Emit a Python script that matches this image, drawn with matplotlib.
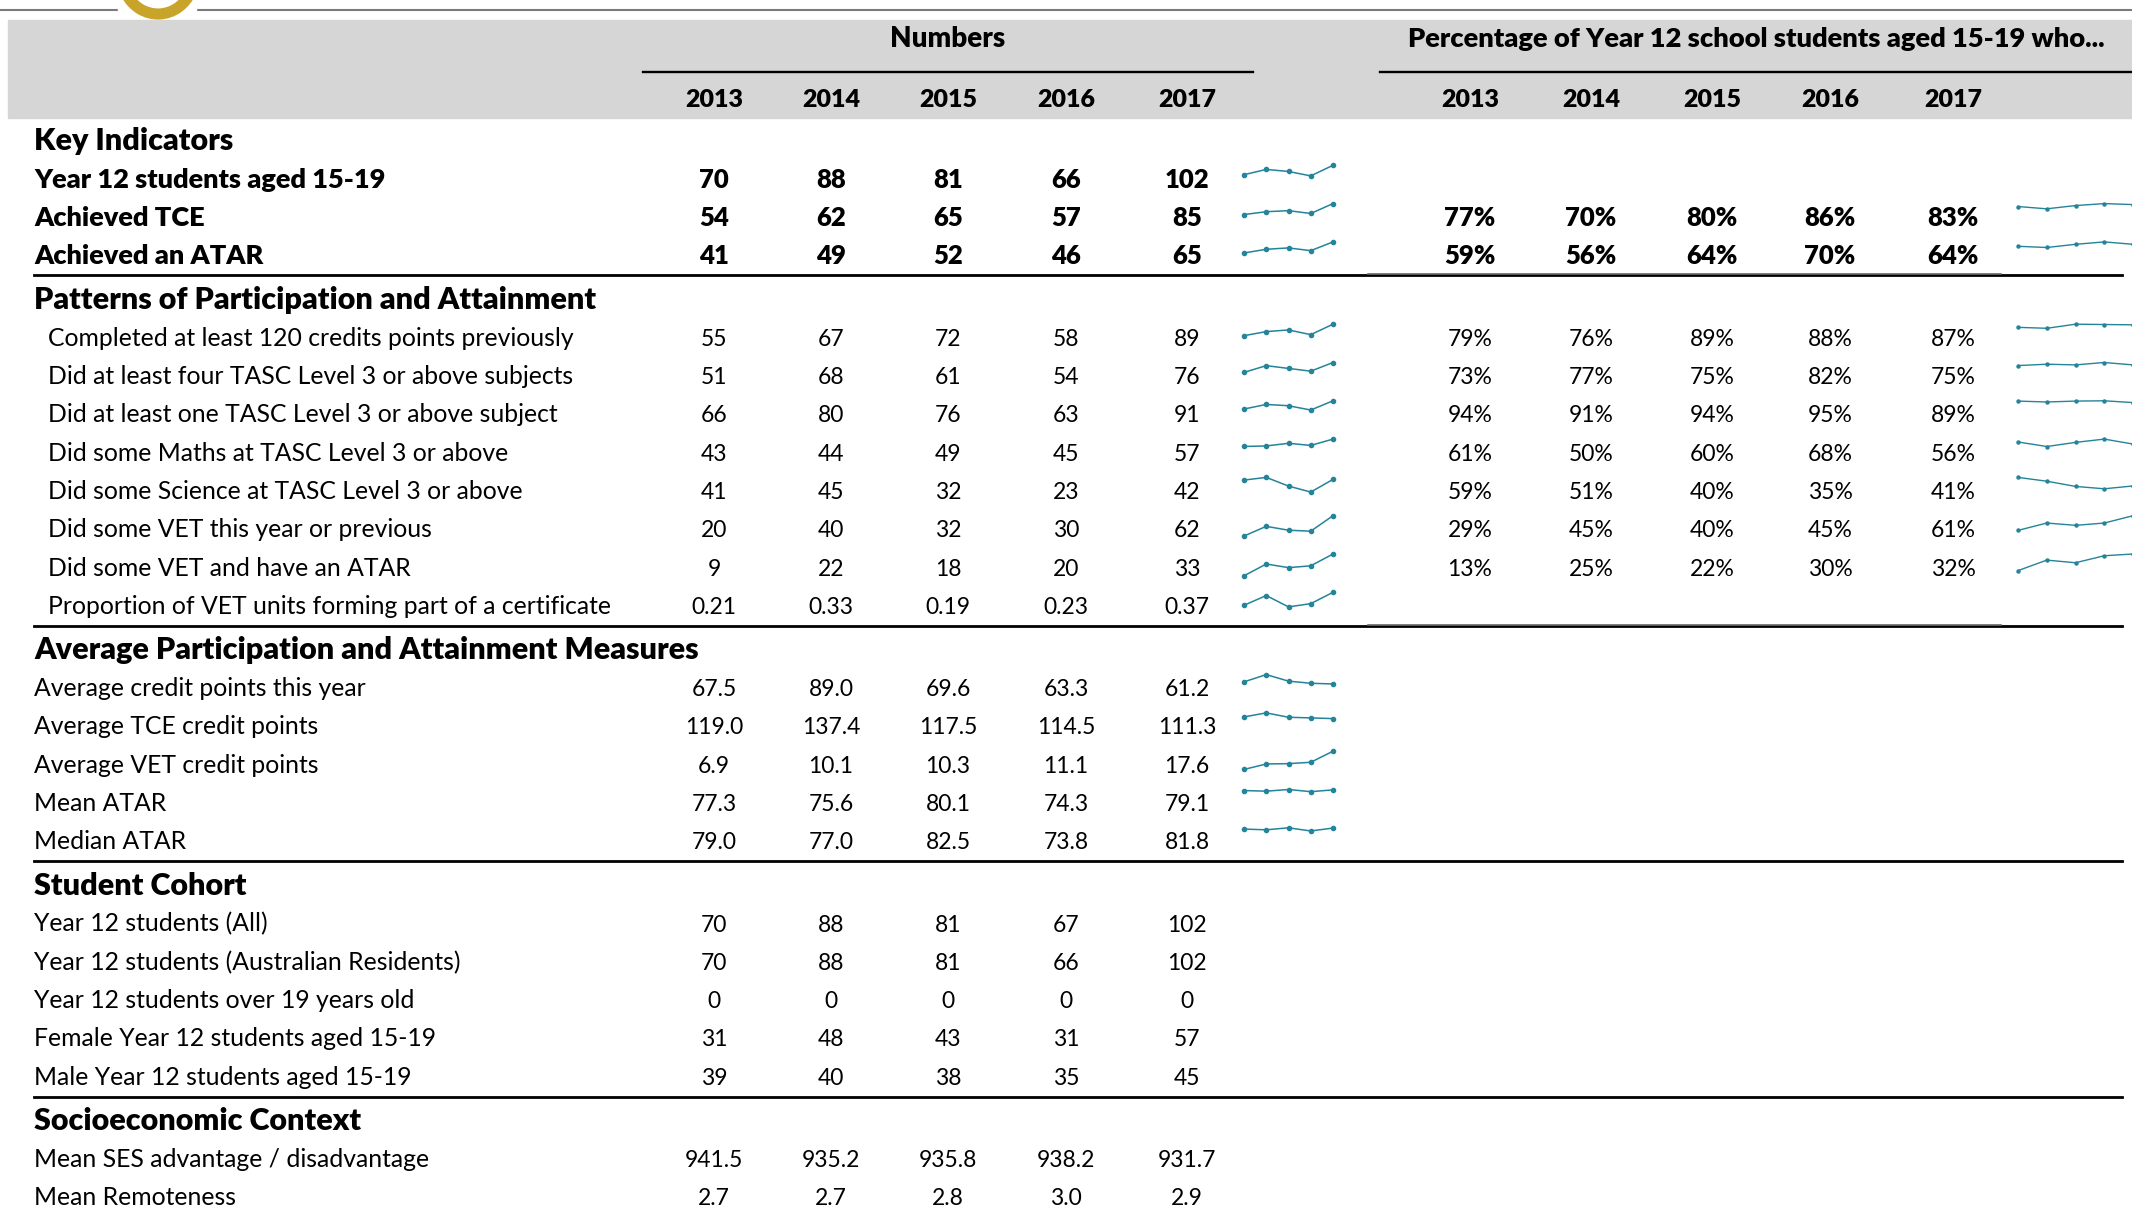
import numpy as np
import matplotlib
matplotlib.use("Agg")
import matplotlib.pyplot as plt
from matplotlib.patches import Rectangle, Arc

plt.rcParams['font.family'] = ['Lato', 'DejaVu Sans']

W, H = 2132, 1213

# ---- data ----
years = ['2013', '2014', '2015', '2016', '2017']

key_labels = ['Year 12 students aged 15-19', 'Achieved TCE', 'Achieved an ATAR']
key_numbers = [[70, 88, 81, 66, 102],
               [54, 62, 65, 57, 85],
               [41, 49, 52, 46, 65]]
key_pct = [None,
           [77, 70, 80, 86, 83],
           [59, 56, 64, 70, 64]]

patterns_labels = ['Completed at least 120 credits points previously',
                   'Did at least four TASC Level 3 or above subjects',
                   'Did at least one TASC Level 3 or above subject',
                   'Did some Maths at TASC Level 3 or above',
                   'Did some Science at TASC Level 3 or above',
                   'Did some VET this year or previous',
                   'Did some VET and have an ATAR',
                   'Proportion of VET units forming part of a certificate']
patterns_numbers = [[55, 67, 72, 58, 89],
                    [51, 68, 61, 54, 76],
                    [66, 80, 76, 63, 91],
                    [43, 44, 49, 45, 57],
                    [41, 45, 32, 23, 42],
                    [20, 40, 32, 30, 62],
                    [9, 22, 18, 20, 33],
                    [0.21, 0.33, 0.19, 0.23, 0.37]]
patterns_pct = [[79, 76, 89, 88, 87],
                [73, 77, 75, 82, 75],
                [94, 91, 94, 95, 89],
                [61, 50, 60, 68, 56],
                [59, 51, 40, 35, 41],
                [29, 45, 40, 45, 61],
                [13, 25, 22, 30, 32],
                None]
patterns_fmt = ['{:.0f}'] * 7 + ['{:.2f}']

avg_labels = ['Average credit points this year', 'Average TCE credit points',
              'Average VET credit points', 'Mean ATAR', 'Median ATAR']
avg_numbers = [[67.5, 89.0, 69.6, 63.3, 61.2],
               [119.0, 137.4, 117.5, 114.5, 111.3],
               [6.9, 10.1, 10.3, 11.1, 17.6],
               [77.3, 75.6, 80.1, 74.3, 79.1],
               [79.0, 77.0, 82.5, 73.8, 81.8]]

cohort_labels = ['Year 12 students (All)', 'Year 12 students (Australian Residents)',
                 'Year 12 students over 19 years old', 'Female Year 12 students aged 15-19',
                 'Male Year 12 students aged 15-19']
cohort_numbers = [[70, 88, 81, 67, 102],
                  [70, 88, 81, 66, 102],
                  [0, 0, 0, 0, 0],
                  [31, 48, 43, 31, 57],
                  [39, 40, 38, 35, 45]]

socio_labels = ['Mean SES advantage / disadvantage', 'Mean Remoteness']
socio_numbers = [[941.5, 935.2, 935.8, 938.2, 931.7],
                 [2.7, 2.7, 2.8, 3.0, 2.9]]

sections = [
    dict(title='Key Indicators', labels=key_labels, nums=key_numbers, pct=key_pct,
         fmt=['{:.0f}'] * 3, bold=True, indent=34, spark=True),
    dict(title='Patterns of Participation and Attainment', labels=patterns_labels,
         nums=patterns_numbers, pct=patterns_pct, fmt=patterns_fmt, bold=False, indent=48, spark=True),
    dict(title='Average Participation and Attainment Measures', labels=avg_labels,
         nums=avg_numbers, pct=None, fmt=['{:.1f}'] * 5, bold=False, indent=34, spark=True),
    dict(title='Student Cohort', labels=cohort_labels, nums=cohort_numbers, pct=None,
         fmt=['{:.0f}'] * 5, bold=False, indent=34, spark=False),
    dict(title='Socioeconomic Context', labels=socio_labels, nums=socio_numbers, pct=None,
         fmt=['{:.1f}'] * 2, bold=False, indent=34, spark=False),
]

# ---- layout ----
num_x = [714, 831, 948, 1066, 1187]
pct_x = [1470, 1591, 1712, 1830, 1953]
teal = '#23849a'
HEAVY = 'heavy'

fig = plt.figure(figsize=(W / 100, H / 100), dpi=100)
ax = fig.add_axes([0, 0, 1, 1])
ax.set_xlim(0, W)
ax.set_ylim(H, 0)
ax.axis('off')


def spark(vals, x0, x1, yc, top, bot, lw, ms):
    ytop, ybot = yc - top, yc + bot
    a = fig.add_axes([x0 / W, (H - ybot) / H, (x1 - x0) / W, (ybot - ytop) / H])
    a.plot(range(len(vals)), vals, color=teal, lw=lw, marker='o', ms=ms, clip_on=False)
    a.set_xlim(0, len(vals) - 1)
    a.set_ylim(0, max(vals))
    a.axis('off')


# top rule and logo
ax.plot([0, W], [9.5, 9.5], color='#7a7a7a', lw=1.5)
ax.add_patch(Rectangle((118, 0), 78, 14, color='white', zorder=2))
ax.add_patch(Arc((158, -24), 72, 76, theta1=25, theta2=150, color='#c9a42a', lw=8, zorder=3))

# header band
ax.add_patch(Rectangle((8, 20), W - 8, 98, color='#d6d6d6', zorder=0))
ax.text(948, 47, 'Numbers', ha='center', va='baseline', fontsize=20, fontweight=HEAVY)
ax.text(1756, 47, 'Percentage of Year 12 school students aged 15-19 who...',
        ha='center', va='baseline', fontsize=19.6, fontweight=HEAVY)
ax.plot([643, 1253], [72, 72], color='black', lw=1.7)
ax.plot([1380, W], [72, 72], color='black', lw=1.7)
for x, y in zip(num_x, years):
    ax.text(x, 107, y, ha='center', va='baseline', fontsize=18, fontweight=HEAVY)
for x, y in zip(pct_x, years):
    ax.text(x, 107, y, ha='center', va='baseline', fontsize=18, fontweight=HEAVY)

# body
step = 38.3
y = 140
for si, sec in enumerate(sections):
    ax.text(34, y + 10, sec['title'], ha='left', va='baseline', fontsize=22, fontweight=HEAVY)
    for i, lab in enumerate(sec['labels']):
        yc = y + step * (i + 1)
        wt = HEAVY if sec['bold'] else 'normal'
        fs = 19.5 if sec['bold'] else 17.8
        nfs = 18.5 if sec['bold'] else 16.5
        off = 9.3 if sec['bold'] else 8.5
        ax.text(sec['indent'], yc + off, lab, ha='left', va='baseline', fontsize=fs, fontweight=wt)
        vals = sec['nums'][i]
        for x, v in zip(num_x, vals):
            ax.text(x, yc + off, sec['fmt'][i].format(v), ha='center', va='baseline',
                    fontsize=nfs, fontweight=wt)
        if sec['spark']:
            spark(vals, 1244, 1333, yc, 13, 17, 1.1, 3)
        if sec['pct'] is not None and sec['pct'][i] is not None:
            pv = sec['pct'][i]
            for x, v in zip(pct_x, pv):
                ax.text(x, yc + off, f'{v}%', ha='center', va='baseline', fontsize=nfs, fontweight=wt)
            spark(pv, 2018, 2133, yc, 13, 15, 1.0, 2.2)
    last = y + step * len(sec['labels'])
    if si < len(sections) - 1:
        ly = last + 20.5
        ax.plot([34, 2122], [ly, ly], color='black', lw=2.0)
        if si < 2:
            ax.plot([1368, 2001], [ly - 1, ly - 1], color='#666666', lw=1.2)
        y = ly + 23.5

fig.savefig('out.png', dpi=100)
